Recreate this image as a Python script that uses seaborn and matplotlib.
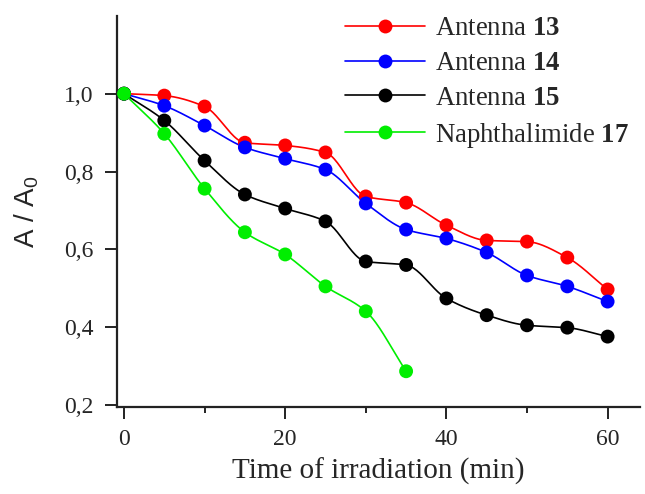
import numpy as np
import pandas as pd
import seaborn as sns
import matplotlib
matplotlib.use("Agg")
import matplotlib.pyplot as plt
from matplotlib.lines import Line2D
from matplotlib.ticker import FuncFormatter, MultipleLocator

# irradiation time (min) and relative absorbance A/A0
time_full = [0, 5, 10, 15, 20, 25, 30, 35, 40, 45, 50, 55, 60]
time_short = [0, 5, 10, 15, 20, 25, 30, 35]
antenna_13 = [1.0, 0.995, 0.967, 0.874, 0.867, 0.849, 0.736, 0.720, 0.662, 0.623, 0.620, 0.579, 0.497]
antenna_14 = [1.0, 0.969, 0.918, 0.862, 0.833, 0.805, 0.718, 0.651, 0.628, 0.592, 0.533, 0.505, 0.466]
antenna_15 = [1.0, 0.931, 0.828, 0.741, 0.705, 0.672, 0.569, 0.560, 0.474, 0.431, 0.405, 0.399, 0.376]
naphthalimide_17 = [1.0, 0.897, 0.756, 0.644, 0.587, 0.505, 0.441, 0.287]

series = [
    (r"Antenna $\mathbf{13}$", time_full, antenna_13, "#ff0000"),
    (r"Antenna $\mathbf{14}$", time_full, antenna_14, "#0000ff"),
    (r"Antenna $\mathbf{15}$", time_full, antenna_15, "#000000"),
    (r"Naphthalimide $\mathbf{17}$", time_short, naphthalimide_17, "#00ee00"),
]


def smooth(x, y, n=300):
    # monotone cubic (Fritsch-Carlson) through the points, no overshoot
    x = np.asarray(x, float)
    y = np.asarray(y, float)
    h = np.diff(x)
    d = np.diff(y) / h
    m = np.zeros_like(y)
    m[0], m[-1] = d[0], d[-1]
    for i in range(1, len(x) - 1):
        if d[i - 1] * d[i] <= 0:
            m[i] = 0
        else:
            w1 = 2 * h[i] + h[i - 1]
            w2 = h[i] + 2 * h[i - 1]
            m[i] = (w1 + w2) / (w1 / d[i - 1] + w2 / d[i])
    xs = np.linspace(x[0], x[-1], n)
    idx = np.clip(np.searchsorted(x, xs) - 1, 0, len(x) - 2)
    hh = h[idx]
    t = (xs - x[idx]) / hh
    h00 = 2 * t**3 - 3 * t**2 + 1
    h10 = t**3 - 2 * t**2 + t
    h01 = -2 * t**3 + 3 * t**2
    h11 = t**3 - t**2
    ys = h00 * y[idx] + h10 * hh * m[idx] + h01 * y[idx + 1] + h11 * hh * m[idx + 1]
    return xs, ys


sns.set_style("ticks")
plt.rcParams["font.family"] = ["Liberation Serif", "DejaVu Serif"]
plt.rcParams["mathtext.fontset"] = "custom"
plt.rcParams["mathtext.rm"] = "Liberation Serif"
plt.rcParams["mathtext.bf"] = "Liberation Serif:bold"
plt.rcParams["mathtext.sf"] = "Liberation Sans"

fig = plt.figure(figsize=(6.45, 4.94), dpi=100)
ax = fig.add_axes([0.181, 0.176, 0.811, 0.792])

handles = []
for label, xs, ys, color in series:
    sx, sy = smooth(xs, ys)
    sns.lineplot(x=sx, y=sy, color=color, lw=1.2, ax=ax, legend=False)
    sns.scatterplot(x=xs, y=ys, color=color, s=100, edgecolor="none", ax=ax, legend=False, zorder=3)
    handles.append(Line2D([], [], color=color, lw=1.2, marker="o", markersize=10,
                          markeredgewidth=0, label=label))

ax.set_xlim(-0.9, 64)
ax.set_ylim(0.195, 1.2)
ax.set_xticks([0, 20, 40, 60])
ax.xaxis.set_minor_locator(MultipleLocator(10))
ax.set_yticks([0.2, 0.4, 0.6, 0.8, 1.0])
ax.yaxis.set_major_formatter(FuncFormatter(lambda v, p: f"{v:.1f}".replace(".", ",")))

for side in ["top", "right"]:
    ax.spines[side].set_visible(False)
for side in ["left", "bottom"]:
    ax.spines[side].set_linewidth(1.6)
    ax.spines[side].set_color("#222222")
ax.tick_params(which="major", length=8.5, width=1.4, labelsize=17, color="#222222", pad=7)
ax.tick_params(axis="y", which="major", pad=8)
ax.tick_params(which="minor", length=4.5, width=1.4, color="#222222")

ax.set_xlabel("Time of irradiation (min)", fontsize=21, labelpad=6)
ax.set_ylabel(r"A / A$_\mathsf{0}$", fontsize=20, family="Liberation Sans", labelpad=17)

fig.legend(handles=handles, loc="upper left", bbox_to_anchor=(345 / 645, 1 - 16 / 494),
           frameon=False, fontsize=19.3, handlelength=3.0, handletextpad=0.35,
           labelspacing=0.37, borderpad=0, borderaxespad=0)

fig.savefig("out.png", dpi=100)
